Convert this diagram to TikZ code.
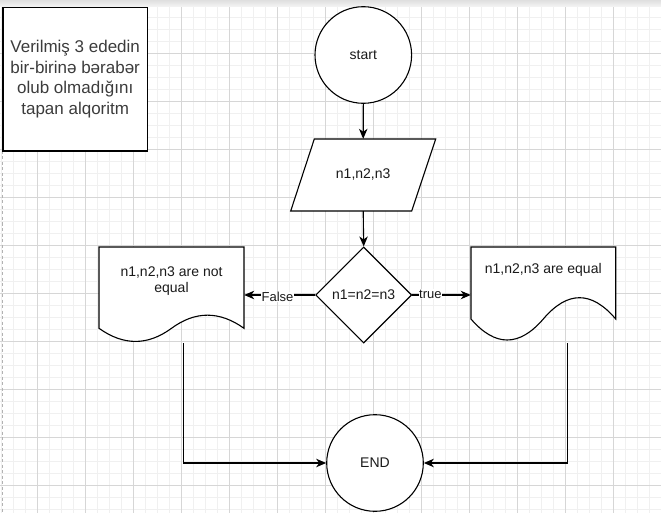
\documentclass[tikz,border=0pt]{standalone}
\usepackage{fontspec}
\setmainfont{Liberation Sans}
\usetikzlibrary{shapes.geometric,arrows.meta}
\definecolor{gridminor}{HTML}{F0F0F0}
\definecolor{gridmajor}{HTML}{D6D6D6}
\definecolor{inkc}{HTML}{1A1A1A}
\tikzset{
  minorline/.style={draw=gridminor, line width=0.9pt},
  majorline/.style={draw=gridmajor, line width=0.9pt},
  shp/.style={draw=black, line width=1.1pt, fill=white},
  txt/.style={font=\fontsize{14}{16.8}\selectfont, text=inkc, align=center},
  conn/.style={draw=black, line width=1.1pt, -{Stealth[length=10pt,width=8.5pt,inset=3pt]}},
  plainconn/.style={draw=black, line width=1.1pt},
  lbl/.style={font=\fontsize{13}{15}\selectfont, text=inkc, fill=white, inner sep=0.6pt},
  ghost/.style={rectangle, inner sep=0pt, minimum width=#1},
  roundnode/.style={circle, shp, inner sep=0pt, minimum size=96.6pt, txt},
}
\begin{document}
\begin{tikzpicture}[x=1pt,y=-1pt]
\useasboundingbox (0,0) rectangle (661,513);
\fill[white] (0,0) rectangle (661,513);
% grid
\foreach \i in {0,...,55} { \draw[minorline] ({1.7+12*\i},0) -- ({1.7+12*\i},513); }
\foreach \i in {0,...,42} { \draw[minorline] (0,{5.3+12*\i}) -- (661,{5.3+12*\i}); }
\foreach \i in {0,...,12} { \draw[majorline] ({37.7+48*\i},0) -- ({37.7+48*\i},513); }
\foreach \i in {0,...,9} { \draw[majorline] (0,{53.3+48*\i}) -- (661,{53.3+48*\i}); }
% top bar
\shade[top color=gray!25, bottom color=gray!8] (0,0) rectangle (661,7);
% page edge
\draw[draw=gray!60, line width=0.9pt, dash pattern=on 3pt off 2.5pt] (2.7,151) -- (2.7,513);

% title box
\node[shp, rectangle, line width=1.3pt, minimum width=144.3pt, minimum height=143.7pt, inner sep=0pt,
      font=\fontsize{17}{20.5}\selectfont, text=inkc!85, align=center] (title) at (75.2,79.2)
  {Verilmiş 3 ededin\\bir-birinə bərabər\\olub olmadığını\\tapan alqoritm};

% start
\node[roundnode] (start) at (363.3,55) {start};

% input parallelogram
\node[ghost=145pt, minimum height=72pt] (io) at (363.2,175) {};
\draw[shp] (314.3,139) -- (435.7,139) -- (411.7,211) -- (290.7,211) -- cycle;
\node[txt] (iot) at (io.center) {n1,n2,n3};

% decision
\node[diamond, shp, inner sep=0pt, minimum width=96pt, minimum height=96pt, txt] (dec) at (363.7,295) {n1=n2=n3};

% not equal document
\node[ghost=145pt, minimum height=96pt] (nq) at (171.5,295) {};
\draw[shp] (99,247) -- (244,247) -- (244,328.3)
  .. controls (219.5,310.8) and (195.3,310.8) .. (171.5,328.3)
  .. controls (147.7,345.8) and (123.5,345.8) .. (99,328.3) -- cycle;
\node[txt] (nqt) at (171.5,281) {n1,n2,n3 are not\\equal};

% equal document
\node[ghost=144.7pt, minimum height=96pt] (eq) at (543.3,295) {};
\draw[shp] (471,247) -- (615.7,247) -- (615.7,319)
  .. controls (591.6,290.6) and (567.4,290.6) .. (543.3,319)
  .. controls (519.2,347) and (495.1,347) .. (471,319) -- cycle;
\node[txt] (eqt) at (543.3,270) {n1,n2,n3 are equal};

% end
\node[roundnode] (endn) at (375,463) {END};

% connectors
\draw[conn] (start.south) -- (io.north);
\draw[conn] (io.south) -- (dec.north);
\draw[conn] (dec.west) -- node[lbl, pos=0.53, yshift=-2pt] {False} (nq.east);
\draw[conn] (dec.east) -- node[lbl, pos=0.31, yshift=1pt] {true} (eq.west);
\draw[conn] ([xshift=11.8pt]nq.south) |- (endn.west);
\draw[conn] ([xshift=24pt]eq.south) |- (endn.east);
\end{tikzpicture}
\end{document}
